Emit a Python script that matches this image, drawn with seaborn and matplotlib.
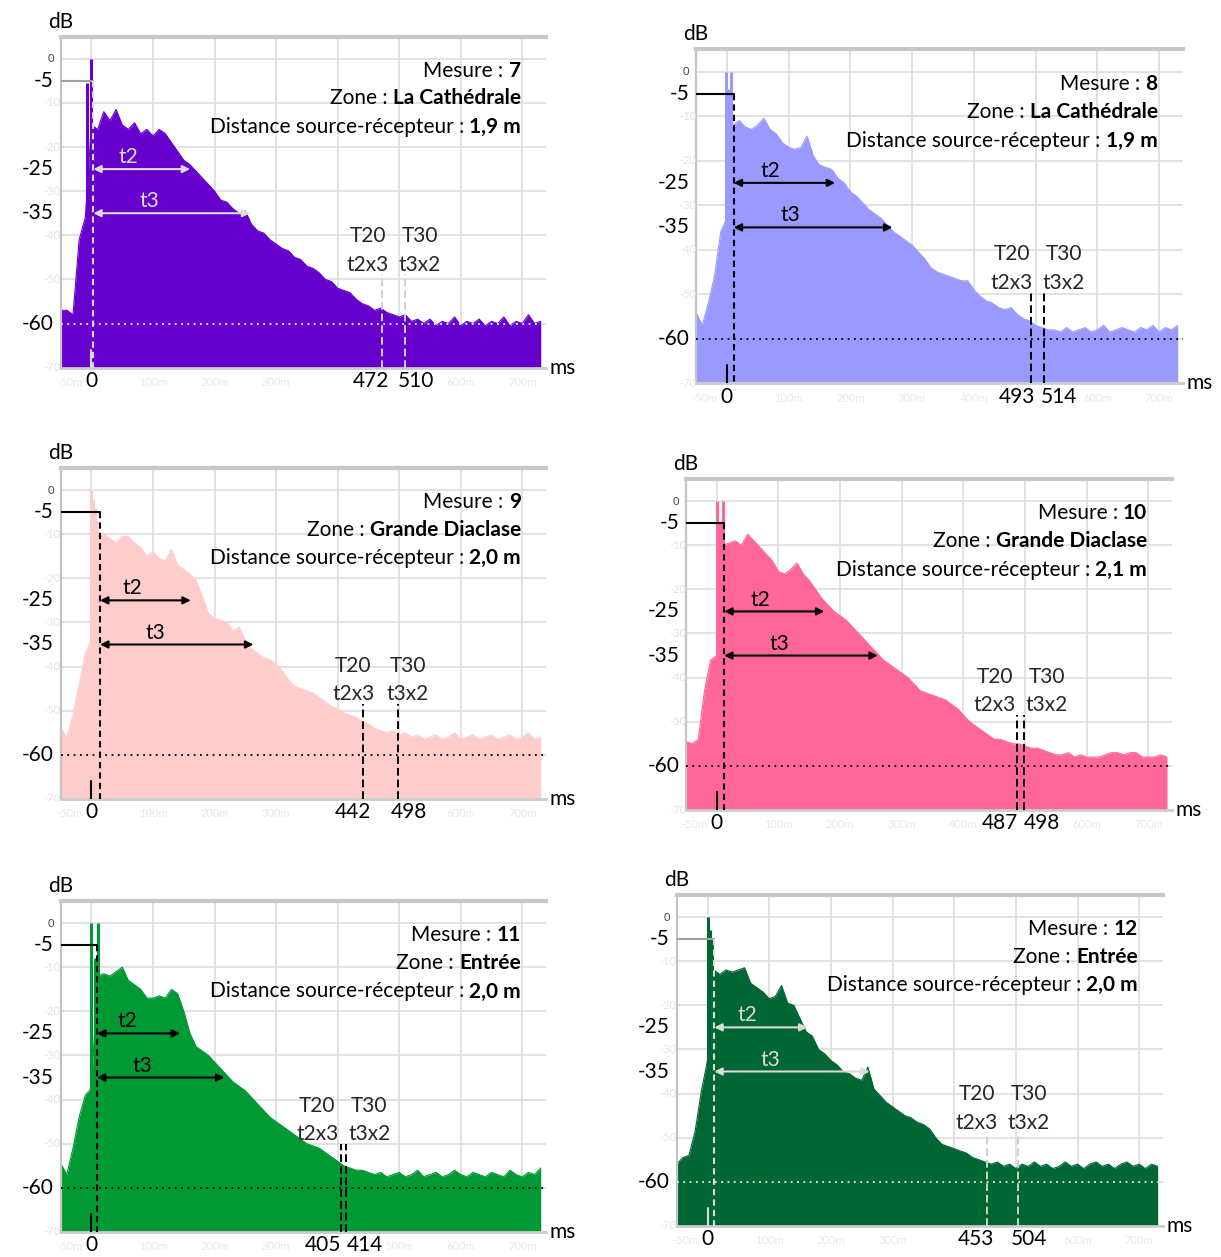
import numpy as np
import matplotlib
matplotlib.use("Agg")
import matplotlib.pyplot as plt
import seaborn as sns

# time axis of the decay curves (ms), one value every 10 ms
t_ms = np.arange(-50, 740, 10)

# energy level (dB), one list per "Mesure"
db_m7 = [-57, -57, -58, -41, -36, -15, -16, -12, -14, -11.5,
         -15, -16, -14.5, -17, -16, -17.5, -16, -17, -19, -21,
         -23, -24, -25.5, -27, -28.5, -30, -32, -32.5, -34, -35,
         -34.5, -37.5, -39, -39.5, -41, -42, -43, -43.5, -45, -45.5,
         -47, -47.5, -48.5, -50, -50.5, -52, -52.5, -53, -54.5, -55.5,
         -56, -57, -56.5, -57.5, -58, -58.5, -58, -59.5, -59, -60,
         -59, -60.5, -59.5, -60, -58.5, -60.5, -59.5, -60, -59, -60.5,
         -59.5, -60, -58.5, -60.5, -59.5, -60, -58, -60, -59.5]
db_m8 = [-54, -57, -52, -46, -36, -33, -12, -11, -12.5, -13,
         -12, -10.5, -13, -14, -16, -17, -17.5, -17, -14.5, -19,
         -21, -21.5, -22, -24, -25, -27, -28, -29.5, -31, -32,
         -33, -34.5, -36, -37, -38, -39, -40.5, -42, -44, -45,
         -45.5, -46, -46.5, -47, -47, -49, -50.5, -51.5, -52, -53,
         -53.5, -53, -54.5, -55.5, -56, -57, -57.5, -58, -58, -58.5,
         -57.5, -58.5, -58, -57.5, -58.5, -58, -57, -58.5, -58, -57.5,
         -58, -58.5, -57.5, -58, -57, -58.5, -57.5, -58, -57]
db_m9 = [-54, -56, -51, -44, -37, -34, -10, -10, -11, -12,
         -10.5, -10.5, -12, -13, -15, -14, -15.5, -16, -13.5, -17,
         -18, -19, -20.5, -24, -28, -29, -29.5, -30, -32, -31,
         -34, -36, -37, -38, -38.5, -39.5, -41, -43, -44.5, -45,
         -45.5, -46, -47, -48, -49, -49.5, -50.5, -51, -51.5, -52.5,
         -53, -54, -54.5, -55, -54.5, -55.5, -55, -56, -55.5, -56.5,
         -56, -55.5, -56.5, -56, -55, -56.5, -56, -55.5, -56.5, -56,
         -55.5, -56.5, -56, -55.5, -56.5, -56, -55, -56.5, -56]
db_m10 = [-54.5, -55, -54, -43, -36, -35, -10, -9.5, -9, -10,
          -7.5, -9, -10.5, -12, -13.5, -16, -16.5, -15.5, -14, -16.5,
          -18, -20, -22, -23.5, -25, -26, -27, -28.5, -30, -31.5,
          -33, -34.5, -36, -37, -38, -39, -40, -41.5, -43, -43.5,
          -44, -44.5, -45, -46, -47, -48.5, -50, -51, -52, -53,
          -54, -54, -54.5, -55, -55, -55.5, -56, -56, -56.5, -57,
          -57.5, -57.5, -57, -58, -57.5, -58, -58, -58, -57.5, -57,
          -57, -57.5, -57, -57, -58, -58, -58, -57.5, -58]
db_m11 = [-54.5, -57, -51, -44, -39, -37.5, -12, -11.5, -12, -11,
          -10, -13, -14, -15, -17, -17, -16.5, -17, -15, -16,
          -20, -25, -28, -29, -30, -31.5, -33, -34.5, -36, -37,
          -38, -39.5, -41, -42.5, -44, -45, -46, -47, -48, -49,
          -50, -50.5, -51, -52, -53, -54, -55, -55.5, -56, -56,
          -56.5, -57, -56.5, -57.5, -57, -56.5, -57.5, -57, -56, -57.5,
          -57, -56.5, -57.5, -57, -56, -57, -57.5, -56.5, -57, -57.5,
          -56.5, -57, -57.5, -56, -57, -57.5, -56.5, -57, -55.5]
db_m12 = [-56, -54.5, -54, -48.5, -39.5, -32.5, -12, -13, -12, -12.5,
          -12, -11.5, -15, -16, -17, -18.5, -18, -15.5, -19.5, -20,
          -23, -26, -27, -30, -31, -32.5, -33.5, -35, -35.5, -36.5,
          -37, -34, -39, -40.5, -42, -43, -44, -45, -45.5, -46.5,
          -47, -48, -50, -51.5, -52, -52.5, -53, -53.5, -54.5, -55,
          -55.5, -56, -55.5, -56.5, -56, -57, -56, -56.5, -55.5, -56.5,
          -56, -57, -56.5, -55.5, -56.5, -56, -57, -56, -55.5, -56.5,
          -56, -57, -56, -55.5, -56.5, -56, -57, -56, -56.5]
curves = [db_m7, db_m8, db_m9, db_m10, db_m11, db_m12]

# direct sound peaks (ms, dB)
peak_t = [[-7, 0], [-2, 3, 7], [0, 3, 6, 9], [0, 5, 10], [0, 5, 10], [0, 4, 8]]
peak_db = [[-5.5, 0], [0, -4, 0], [0, -2, -4, -7], [0, -5, 0], [0, -8, 0], [0, -3, -5]]

mesures = ["7", "8", "9", "10", "11", "12"]
zones = ["La Cathédrale", "La Cathédrale", "Grande Diaclase",
         "Grande Diaclase", "Entrée", "Entrée"]
distances = ["1,9 m", "1,9 m", "2,0 m", "2,1 m", "2,0 m", "2,0 m"]
t20 = [472, 493, 442, 487, 405, 453]
t30 = [510, 514, 498, 498, 414, 504]
t_start = [3, 11, 14, 12, 9, 11]
tlabel_db = [-40.2, -41, -39.8, -39.8, -41.4, -40.2]

colors = ["#6600CC", "#9999FF", "#FFCCCC", "#FF6699", "#009933", "#006633"]
light_marks = [True, False, False, False, False, True]

# axes rectangles in figure fraction
rects = [[0.0497, 0.7075, 0.3972, 0.2633], [0.5700, 0.6951, 0.3986, 0.2657],
         [0.0497, 0.3644, 0.3972, 0.2633], [0.5618, 0.3556, 0.3980, 0.2633],
         [0.0497, 0.0199, 0.3972, 0.2633], [0.5542, 0.0247, 0.3980, 0.2633]]

sns.set_style("white")
plt.rcParams["font.family"] = ["Lato", "DejaVu Sans"]
FS = 15


def info_line(ax, y, normal, bold):
    b = ax.text(0.949, y, bold, transform=ax.get_yaxis_transform(), ha="right",
                va="center", fontsize=FS, fontweight="bold", color="black")
    ax.annotate(normal, xy=(0, 0.5), xycoords=b, ha="right", va="center",
                fontsize=FS, color="black")


def draw_panel(ax, i):
    col = colors[i]
    light = light_marks[i]
    mark = "#DADADA" if light else "black"
    hline = "#A0A0A0" if light else "black"
    dots = "#EEEEEE" if light else "black"
    y = np.array(curves[i])

    ax.fill_between(t_ms, y, -70, color=col, lw=0, zorder=2)
    sns.lineplot(x=t_ms, y=y, ax=ax, color=col, lw=0.8, zorder=2)
    ax.vlines(peak_t[i], -70, peak_db[i], color=col, lw=2.2, zorder=2)

    ax.set_xlim(-50, 738)
    ax.set_ylim(-70, 5)
    ax.set_xticks(range(0, 800, 100))
    ax.set_yticks(range(-70, 1, 10))
    ax.set_xticklabels([])
    ax.set_yticklabels([])
    ax.tick_params(length=0)
    ax.grid(True, color="#DDDDDD", lw=1.2)
    ax.set_axisbelow(True)
    ax.set_xlabel("")
    ax.set_ylabel("")
    ax.spines["right"].set_visible(False)
    ax.spines["top"].set_color("#C8C8C8")
    ax.spines["top"].set_linewidth(3)
    ax.spines["left"].set_color("#C4C4C4")
    ax.spines["left"].set_linewidth(1.6)
    ax.spines["bottom"].set_color("#CCCCCC")
    ax.spines["bottom"].set_linewidth(2)

    ytr = ax.get_yaxis_transform()
    xtr = ax.get_xaxis_transform()
    # faint labels left over from the measuring software
    for v in [-10, -20, -30, -40, -50, -70]:
        ax.text(0.0, v, str(v), transform=ytr, ha="right", va="center",
                fontsize=8, color="#E4E4E4")
    for v, s in zip([-36] + list(range(100, 800, 100)),
                    ["-50m"] + ["%dm" % k for k in range(100, 800, 100)]):
        if min(abs(v - t20[i]), abs(v - t30[i])) < 75:
            continue
        ax.text(v, -0.045, s, transform=xtr, ha="center", va="center",
                fontsize=8, color="#E8E8E8")
    ax.text(-0.014, 0, "0", transform=ytr, ha="right", va="center",
            fontsize=8, color="#444444")
    for v in [-5, -25, -35, -60]:
        ax.text(-0.014, v, str(v), transform=ytr, ha="right", va="center",
                fontsize=FS, color="black")
    ax.text(0.0, 1.045, "dB", transform=ax.transAxes, ha="center", va="center",
            fontsize=FS, color="black")
    ax.text(1.008, 0.0, "ms", transform=ax.transAxes, ha="left", va="center",
            fontsize=FS, color="black")

    ts = t_start[i]
    ax.plot([-50, ts], [-5, -5], color=hline, lw=1.5, zorder=4)
    ax.plot([ts, ts], [-5, -70], color=mark, lw=1.5, ls=(0, (3, 2)), zorder=4)
    ax.plot([0, 0], [-70, -66], color=mark, lw=1.5, zorder=4)
    ax.axhline(-60, color=dots, lw=1.3, ls=(0, (1, 2.5)), zorder=3)

    for yy, dur, name in [(-25, t20[i] / 3, "t2"), (-35, t30[i] / 2, "t3")]:
        ax.annotate("", xy=(ts, yy), xytext=(ts + dur, yy), zorder=4,
                    arrowprops=dict(arrowstyle="<|-|>", color=mark, lw=1.5,
                                    mutation_scale=11, shrinkA=0, shrinkB=0))
        ax.text(ts + 0.36 * dur, yy + 2.7, name, ha="center", va="center",
                fontsize=FS, color=mark, zorder=4)

    # T20 / T30 markers
    ly = tlabel_db[i]
    for tv in [t20[i], t30[i]]:
        ax.plot([tv, tv], [-70, ly - 8.6], color=mark if not light else "#CFCFCF",
                lw=1.4, ls=(0, (4, 2)), zorder=4)
    px = ax.transData.transform([(t20[i], 0), (t30[i], 0)])[:, 0]
    mid = px.mean()
    a, b = px[0] - 10, px[1] + 10
    if b - a < 52:
        a, b = mid - 26, mid + 26
    va_, vb_ = px[0] - 11, px[1] + 11
    if vb_ - va_ < 42:
        va_, vb_ = mid - 21, mid + 21
    inv = ax.transData.inverted()
    xa = inv.transform((a, 0))[0]
    xb = inv.transform((b, 0))[0]
    ax.text(xa, ly, "T20", ha="center", va="center", fontsize=FS)
    ax.text(xa, ly - 6.5, "t2x3", ha="center", va="center", fontsize=FS)
    ax.text(xb, ly, "T30", ha="center", va="center", fontsize=FS)
    ax.text(xb, ly - 6.5, "t3x2", ha="center", va="center", fontsize=FS)
    xva = inv.transform((va_, 0))[0]
    xvb = inv.transform((vb_, 0))[0]
    for xv, s in [(0, "0"), (xva, str(t20[i])), (xvb, str(t30[i]))]:
        ax.text(xv, -0.04, s, transform=xtr, ha="center", va="center",
                fontsize=FS, color="black")

    info_line(ax, -2.7, "Mesure : ", mesures[i])
    info_line(ax, -9.0, "Zone : ", zones[i])
    info_line(ax, -15.5, "Distance source-récepteur : ", distances[i])


fig = plt.figure(figsize=(12.21, 12.57), dpi=100)
for i, r in enumerate(rects):
    ax = fig.add_axes(r)
    draw_panel(ax, i)

fig.savefig("out.png", dpi=100, facecolor="white")
